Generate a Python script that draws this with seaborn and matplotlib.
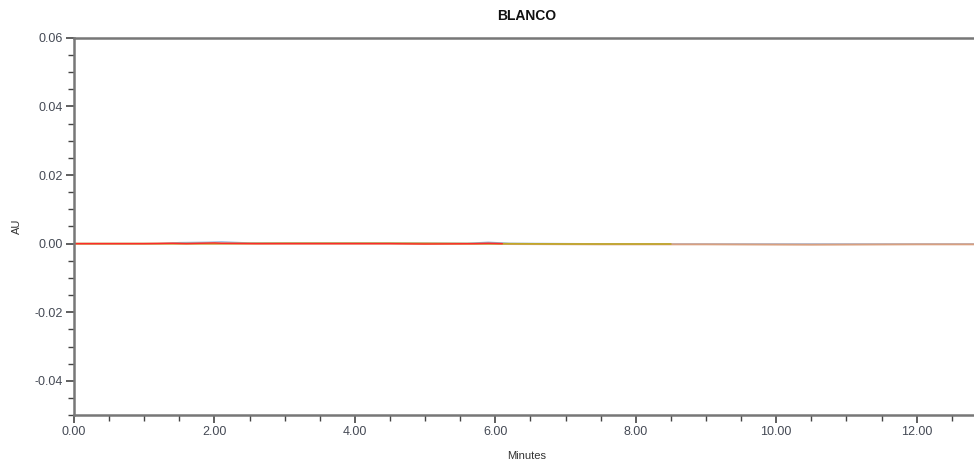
import matplotlib
matplotlib.use("Agg")
import matplotlib.pyplot as plt
import seaborn as sns
import pandas as pd
from matplotlib.ticker import MultipleLocator, FormatStrFormatter

sns.set_theme(style="white")
plt.rcParams['font.family'] = ['Liberation Sans', 'DejaVu Sans']

# Data: near-flat baselines of several injections
time_red = [0.0, 1.0, 1.4, 1.6, 2.0, 2.1, 2.6, 3.5, 4.5, 5.0, 5.7, 5.9, 6.1]
au_red = [0.0, 0.0, 0.0001, 0.0, 0.0002, 0.0001, 0.0, 0.0, 0.0, -0.0001, 0.0, 0.0001, 0.0]
time_blue = [0.0, 1.2, 1.5, 1.9, 2.1, 2.5, 4.0, 5.6, 5.9, 6.2, 8.0, 10.0, 12.9]
au_blue = [0.0, 0.0, 0.0003, 0.0004, 0.0005, 0.0002, 0.0002, 0.0001, 0.0004, 0.0001, -0.0001, -0.0001, -0.0001]
time_yellow = [0.0, 2.0, 3.0, 4.5, 6.0, 7.0, 8.5]
au_yellow = [0.0, 0.0, 0.0001, 0.0001, 0.0, -0.0001, -0.0001]
time_salmon = [0.0, 2.0, 3.0, 4.5, 6.0, 7.5, 9.0, 10.5, 12.0, 12.9]
au_salmon = [0.0, 0.0, 0.0, 0.0, -0.0001, -0.0002, -0.0002, -0.0003, -0.0002, -0.0002]

x_ticks = [0, 2, 4, 6, 8, 10, 12]
y_ticks = [-0.04, -0.02, 0.0, 0.02, 0.04, 0.06]

fig = plt.figure(figsize=(9.74, 4.67), dpi=100)
ax = fig.add_axes([0.076, 0.111, 0.93, 0.808])

sns.lineplot(x=time_blue, y=au_blue, ax=ax, color="#8fb0e0", lw=1.0)
sns.lineplot(x=time_salmon, y=au_salmon, ax=ax, color="#d8a080", lw=1.4)
sns.lineplot(x=time_yellow, y=au_yellow, ax=ax, color="#c0a828", lw=1.2)
sns.lineplot(x=time_red, y=au_red, ax=ax, color="#ff2a2a", lw=1.0)

ax.set_xlim(0, 12.9)
ax.set_ylim(-0.05, 0.06)
ax.set_xticks(x_ticks)
ax.set_yticks(y_ticks)
ax.xaxis.set_major_formatter(FormatStrFormatter('%.2f'))
ax.yaxis.set_major_formatter(FormatStrFormatter('%.2f'))
ax.xaxis.set_minor_locator(MultipleLocator(0.5))
ax.yaxis.set_minor_locator(MultipleLocator(0.005))
ax.tick_params(which='major', direction='out', length=6, width=1.2, color='#444444',
               labelsize=9, labelcolor='#454a55', left=True, bottom=True, pad=2)
ax.tick_params(which='minor', direction='out', length=4, width=1.0, color='#444444',
               left=True, bottom=True)

for s in ['left', 'bottom', 'top']:
    ax.spines[s].set_color('#777777')
    ax.spines[s].set_linewidth(1.8)
ax.spines['right'].set_visible(False)

ax.set_title("BLANCO", fontsize=10, fontweight='bold', color='#111111', pad=13)
ax.set_xlabel("Minutes", fontsize=8, color='#333333', labelpad=9)
ax.set_ylabel("AU", fontsize=8, color='#333333', labelpad=9)

fig.savefig("out.png", dpi=100, facecolor='white')
